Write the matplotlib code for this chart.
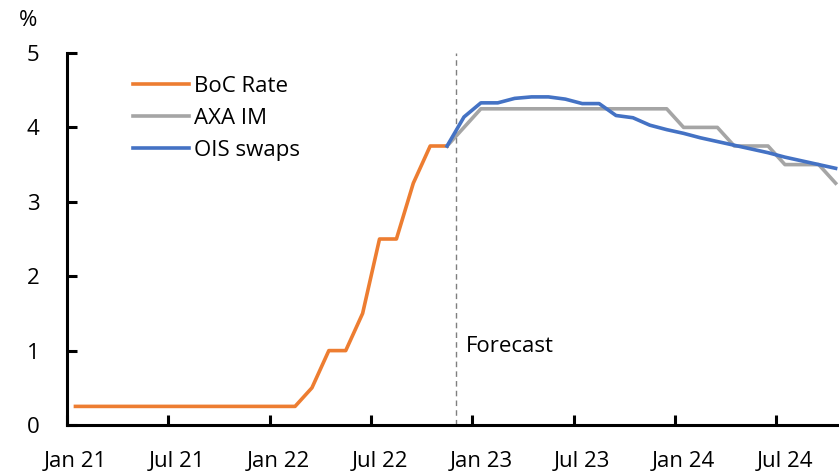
import matplotlib
matplotlib.use("Agg")
import matplotlib.pyplot as plt
from matplotlib.ticker import FixedLocator, NullFormatter

plt.rcParams['font.family'] = ['Open Sans', 'DejaVu Sans']

# Monthly series, Jan 2021 (index 0) to Oct 2024 (index 45)
months = ["Jan 21", "Feb 21", "Mar 21", "Apr 21", "May 21", "Jun 21", "Jul 21", "Aug 21",
          "Sep 21", "Oct 21", "Nov 21", "Dec 21", "Jan 22", "Feb 22", "Mar 22", "Apr 22",
          "May 22", "Jun 22", "Jul 22", "Aug 22", "Sep 22", "Oct 22", "Nov 22", "Dec 22",
          "Jan 23", "Feb 23", "Mar 23", "Apr 23", "May 23", "Jun 23", "Jul 23", "Aug 23",
          "Sep 23", "Oct 23", "Nov 23", "Dec 23", "Jan 24", "Feb 24", "Mar 24", "Apr 24",
          "May 24", "Jun 24", "Jul 24", "Aug 24", "Sep 24", "Oct 24"]

# Bank of Canada policy rate, Jan 21 - Nov 22
boc_rate = [0.25] * 14 + [0.5, 1.0, 1.0, 1.5, 2.5, 2.5, 3.25, 3.75, 3.75]

# Forecast paths, Nov 22 - Oct 24
axa_im = [3.75, 4.0] + [4.25] * 12 + [4.0] * 3 + [3.75] * 3 + [3.5] * 3 + [3.25]
ois_swaps = [3.75, 4.14, 4.33, 4.33, 4.39, 4.41, 4.41, 4.38, 4.32, 4.32, 4.16, 4.13,
             4.03, 3.97, 3.92, 3.86, 3.81, 3.76, 3.71, 3.66, 3.60, 3.55, 3.50, 3.45]

tick_labels = ["Jan 21", "Jul 21", "Jan 22", "Jul 22", "Jan 23", "Jul 23", "Jan 24", "Jul 24"]

x_boc = list(range(len(boc_rate)))
fc_start = len(boc_rate) - 1
x_axa = list(range(fc_start, fc_start + len(axa_im)))
x_ois = list(range(fc_start, fc_start + len(ois_swaps)))

fig = plt.figure(figsize=(8.39, 4.72), dpi=100)
ax = fig.add_axes([67 / 839, 47 / 472, 772 / 839, 372 / 472])

fs = 16
lw = 2.6
ax.plot(x_boc, boc_rate, color="#ED7D31", lw=lw, label="BoC Rate", solid_joinstyle="round")
ax.plot(x_axa, axa_im, color="#A5A5A5", lw=lw, label="AXA IM", solid_joinstyle="round")
ax.plot(x_ois, ois_swaps, color="#4472C4", lw=lw, label="OIS swaps", solid_joinstyle="round")

# forecast divider between Nov 22 and Dec 22
ax.axvline(fc_start + 0.5, color="#7F7F7F", lw=1.0, ls=(0, (4, 3)), zorder=0)
ax.text(fc_start + 1.1, 1.05, "Forecast", fontsize=fs, ha="left", va="center", color="#000000")

ax.set_xlim(-0.5, 45.2)
ax.set_ylim(0, 5)

# tick marks on month boundaries, labels centred on the month
label_pos = [months.index(m) for m in tick_labels]
ax.xaxis.set_major_locator(FixedLocator([p - 0.5 for p in label_pos]))
ax.xaxis.set_major_formatter(NullFormatter())
ax.xaxis.set_minor_locator(FixedLocator(label_pos))
ax.set_xticklabels(tick_labels, minor=True)
ax.tick_params(axis="x", which="major", direction="in", length=7, width=2.2)
ax.tick_params(axis="x", which="minor", length=0, pad=19, labelsize=fs)

ax.set_yticks([0, 1, 2, 3, 4, 5])
ax.tick_params(axis="y", direction="in", length=7, width=2.2, pad=20, labelsize=fs)

for side in ("top", "right"):
    ax.spines[side].set_visible(False)
for side in ("left", "bottom"):
    ax.spines[side].set_linewidth(2.2)

fig.text(28 / 839, 1 - 20 / 472, "%", fontsize=fs, ha="center", va="center")

ax.legend(loc="upper left", bbox_to_anchor=(0.074, 0.963), frameon=False, fontsize=fs,
          handlelength=2.5, handletextpad=0.25, labelspacing=0.5, borderaxespad=0)

fig.savefig("out.png", dpi=100)
